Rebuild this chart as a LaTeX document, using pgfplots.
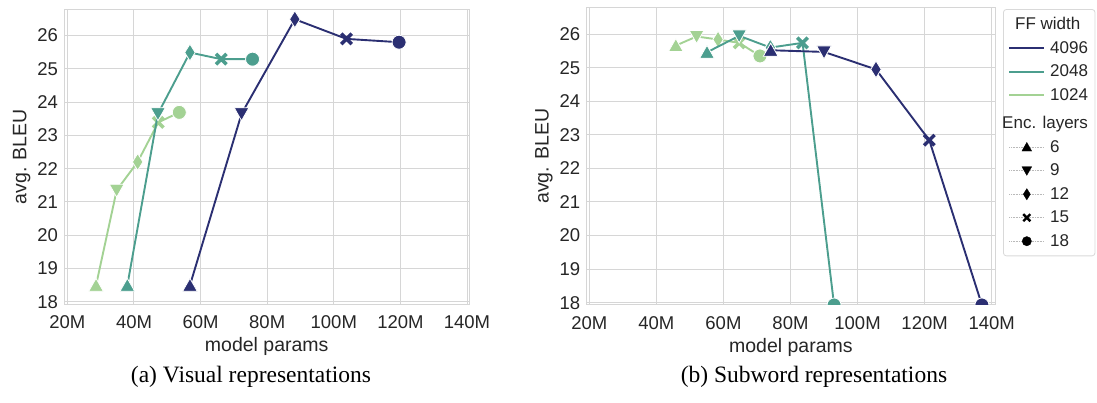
\documentclass[border=0pt]{standalone}
\usepackage{fontspec}
\setmainfont{Liberation Sans}
\newfontfamily\capfont{Liberation Serif}
\usepackage{pgfplots}
\pgfplotsset{compat=1.18}

\definecolor{cnavy}{HTML}{2B2F72}
\definecolor{cteal}{HTML}{4C9E8E}
\definecolor{clight}{HTML}{A3D294}
\definecolor{gridc}{HTML}{D6D6D6}

\pgfdeclareplotmark{tup}{%
  \pgfpathmoveto{\pgfqpoint{0pt}{1.0\pgfplotmarksize}}%
  \pgfpathlineto{\pgfqpoint{-1.05\pgfplotmarksize}{-0.85\pgfplotmarksize}}%
  \pgfpathlineto{\pgfqpoint{1.05\pgfplotmarksize}{-0.85\pgfplotmarksize}}%
  \pgfpathclose\pgfusepathqfillstroke}
\pgfdeclareplotmark{tdown}{%
  \pgfpathmoveto{\pgfqpoint{0pt}{-1.0\pgfplotmarksize}}%
  \pgfpathlineto{\pgfqpoint{-1.05\pgfplotmarksize}{0.85\pgfplotmarksize}}%
  \pgfpathlineto{\pgfqpoint{1.05\pgfplotmarksize}{0.85\pgfplotmarksize}}%
  \pgfpathclose\pgfusepathqfillstroke}
\pgfdeclareplotmark{tdiam}{%
  \pgfpathmoveto{\pgfqpoint{0pt}{1.2\pgfplotmarksize}}%
  \pgfpathlineto{\pgfqpoint{-0.75\pgfplotmarksize}{0pt}}%
  \pgfpathlineto{\pgfqpoint{0pt}{-1.2\pgfplotmarksize}}%
  \pgfpathlineto{\pgfqpoint{0.75\pgfplotmarksize}{0pt}}%
  \pgfpathclose\pgfusepathqfillstroke}
\pgfdeclareplotmark{fatx}{%
  \pgfsetlinewidth{0.5\pgfplotmarksize}\pgfsetbuttcap
  \pgfpathmoveto{\pgfqpoint{-0.75\pgfplotmarksize}{-0.75\pgfplotmarksize}}%
  \pgfpathlineto{\pgfqpoint{0.75\pgfplotmarksize}{0.75\pgfplotmarksize}}%
  \pgfpathmoveto{\pgfqpoint{-0.75\pgfplotmarksize}{0.75\pgfplotmarksize}}%
  \pgfpathlineto{\pgfqpoint{0.75\pgfplotmarksize}{-0.75\pgfplotmarksize}}%
  \pgfusepathqstroke}
\pgfdeclareplotmark{dot}{%
  \pgfpathcircle{\pgfpointorigin}{\pgfplotmarksize}\pgfusepathqfillstroke}

\pgfplotsset{
  base/.style={
    scale only axis, anchor=south west,
    axis line style={gridc, line width=1pt},
    grid=major, major grid style={gridc, line width=1pt},
    tick style={draw=none},
    xtick={20,40,60,80,100,120,140},
    xticklabels={20M,40M,60M,80M,100M,120M,140M},
    ytick={18,19,20,21,22,23,24,25,26},
    /pgf/number format/assume math mode=true,
    ticklabel style={font=\fontsize{18.5}{20}\selectfont, text=black!85},
    yticklabel style={xshift=-3pt},
    xticklabel style={yshift=-8pt},
    label style={font=\fontsize{19.5}{22}\selectfont, text=black!85},
    xlabel={model params}, ylabel={avg. BLEU},
    xlabel style={yshift=-2pt},
    clip mode=individual, clip marker paths=true,
  },
  ser/.style={line width=1.9pt, color=#1, scatter, point meta=explicit symbolic,
    mark size=7pt, forget plot,
    scatter/classes={
      a={mark=tup, draw=white, fill=#1, line width=0.8pt},
      b={mark=tdown, draw=white, fill=#1, line width=0.8pt},
      c={mark=tdiam, draw=white, fill=#1, line width=0.8pt},
      d={mark=fatx, draw=#1},
      e={mark=dot, draw=white, fill=#1, line width=0.8pt}}},
  lineleg/.style={legend image code/.code={\draw[##1, line width=1.8pt] (0pt,0pt) -- (35pt,0pt);}},
  markleg/.style={legend image code/.code={%
    \draw[gray!55, densely dotted, line width=0.6pt] (0pt,0pt) -- (35pt,0pt);
    \draw[##1, draw=black, fill=black, mark size=4.7pt, line width=0.3pt] plot coordinates {(17.5pt,0pt)};}},
}

\begin{document}
\begin{tikzpicture}
\path[use as bounding box] (0pt,0pt) rectangle (1097pt,403pt);

\begin{axis}[base, at={(64.5pt,98.7pt)}, width=404.5pt, height=295pt,
  xmin=19.13, xmax=140.6, ymin=17.92, ymax=26.79]
\addplot[ser=clight] table[meta=m] {
x y m
28.6 18.49 a
34.8 21.35 b
41.1 22.20 c
47.3 23.39 d
53.6 23.69 e
};
\addplot[ser=cteal] table[meta=m] {
x y m
38.0 18.49 a
47.2 23.65 b
56.8 25.49 c
66.2 25.29 d
75.6 25.29 e
};
\addplot[ser=cnavy] table[meta=m] {
x y m
56.8 18.49 a
72.3 23.65 b
88.3 26.49 c
103.8 25.90 d
119.6 25.80 e
};
\end{axis}

\begin{axis}[base, at={(586.7pt,98pt)}, width=408.3pt, height=297.7pt,
  xmin=19.22, xmax=141.0, ymin=17.93, ymax=26.8,
  legend style={at={(1.0196,0.994)}, anchor=north west, draw=gray!30,
    line width=0.8pt, rounded corners=3pt, fill=white,
    font=\fontsize{17}{19}\selectfont, text=black!85,
    inner xsep=5pt, inner ysep=6pt,
    nodes={inner sep=2pt}, row sep=6.2pt, column sep=3pt},
  legend cell align=left]
\addplot[ser=clight] table[meta=m] {
x y m
45.8 25.66 a
52.0 25.93 b
58.4 25.84 c
64.7 25.74 d
70.9 25.35 e
};
\addplot[ser=cteal] table[meta=m] {
x y m
55.1 25.46 a
64.7 25.95 b
74.0 25.60 c
83.6 25.74 d
93.0 17.93 e
};
\addplot[ser=cnavy] table[meta=m] {
x y m
74.1 25.52 a
90.0 25.47 b
105.5 24.95 c
121.4 22.84 d
137.1 17.93 e
};
\addlegendimage{empty legend}
\addlegendentry{\makebox[0pt][l]{\hspace*{-35pt}FF width}}
\addlegendimage{lineleg, draw=cnavy}
\addlegendentry{4096}
\addlegendimage{lineleg, draw=cteal}
\addlegendentry{2048}
\addlegendimage{lineleg, draw=clight}
\addlegendentry{1024}
\addlegendimage{empty legend}
\addlegendentry{\makebox[0pt][l]{\hspace*{-48pt}\rule{0pt}{16.5pt}Enc. layers}}
\addlegendimage{markleg, mark=tup}
\addlegendentry{6}
\addlegendimage{markleg, mark=tdown}
\addlegendentry{9}
\addlegendimage{markleg, mark=tdiam}
\addlegendentry{12}
\addlegendimage{markleg, mark=fatx}
\addlegendentry{15}
\addlegendimage{markleg, mark=dot}
\addlegendentry{18}
\end{axis}

\node[anchor=base, font=\capfont\fontsize{23.5}{25}\selectfont] at (251pt,20pt) {(a) Visual representations};
\node[anchor=base, font=\capfont\fontsize{23.5}{25}\selectfont] at (814pt,20pt) {(b) Subword representations};
\end{tikzpicture}
\end{document}
